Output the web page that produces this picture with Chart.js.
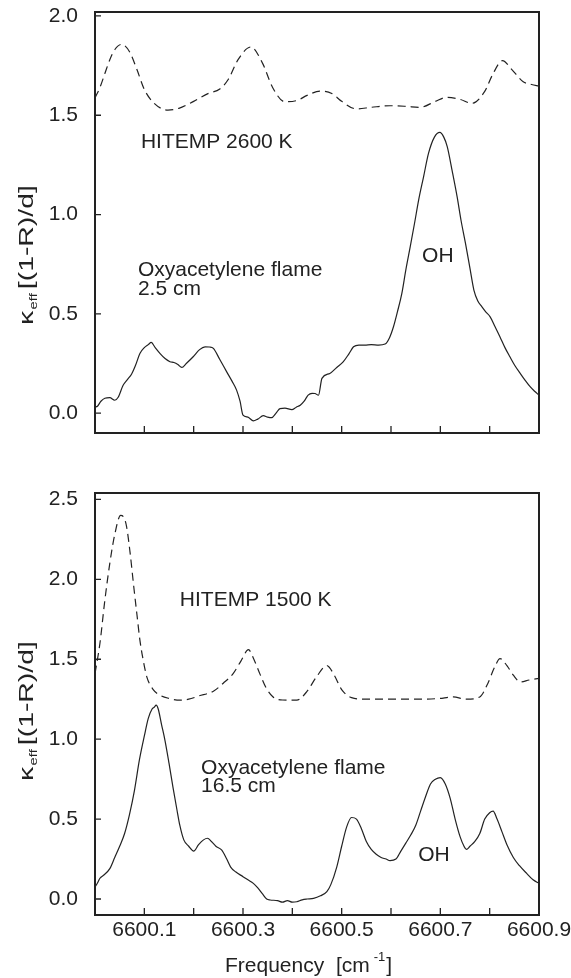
<!DOCTYPE html>
<html lang="en">
<head>
<meta charset="UTF-8" />
<title>Oxyacetylene flame vs HITEMP</title>
<style>
  html, body { margin: 0; padding: 0; background: #fff; }
  body { width: 571px; height: 978px; position: relative; overflow: hidden; }
  canvas { position: absolute; left: 0; }
  #topChart { top: 0; }
  #bottomChart { top: 470px; }
</style>
<script src="https://cdn.jsdelivr.net/npm/chart.js"></script>
</head>
<body>
<canvas id="topChart" width="571" height="470"></canvas>
<canvas id="bottomChart" width="571" height="508"></canvas>
<script>
// DATA - top panel (2.5 cm, HITEMP 2600 K)
const hitemp2600Freq = [6600.000, 6600.010, 6600.020, 6600.030, 6600.040, 6600.054, 6600.070, 6600.085, 6600.100, 6600.120,
  6600.148, 6600.170, 6600.200, 6600.230, 6600.253, 6600.270, 6600.290, 6600.316, 6600.340, 6600.360,
  6600.385, 6600.410, 6600.430, 6600.456, 6600.480, 6600.500, 6600.530, 6600.560, 6600.598, 6600.630,
  6600.659, 6600.690, 6600.713, 6600.740, 6600.764, 6600.790, 6600.805, 6600.826, 6600.845, 6600.868,
  6600.885, 6600.900];
const hitemp2600Val = [1.587, 1.64, 1.71, 1.78, 1.83, 1.857, 1.82, 1.73, 1.63, 1.56,
  1.526, 1.535, 1.57, 1.61, 1.632, 1.68, 1.78, 1.844, 1.76, 1.64,
  1.568, 1.575, 1.60, 1.622, 1.61, 1.57, 1.532, 1.54, 1.548, 1.545,
  1.540, 1.57, 1.590, 1.58, 1.560, 1.62, 1.70, 1.775, 1.73, 1.669,
  1.655, 1.647];

const flame25Freq = [6600.000, 6600.005, 6600.012, 6600.020, 6600.030, 6600.040, 6600.047, 6600.057, 6600.066, 6600.074,
  6600.082, 6600.091, 6600.100, 6600.108, 6600.114, 6600.122, 6600.132, 6600.142, 6600.152, 6600.160,
  6600.168, 6600.176, 6600.185, 6600.199, 6600.212, 6600.223, 6600.232, 6600.240, 6600.253, 6600.267,
  6600.278, 6600.287, 6600.294, 6600.300, 6600.310, 6600.321, 6600.330, 6600.341, 6600.350, 6600.358,
  6600.367, 6600.375, 6600.385, 6600.399, 6600.408, 6600.416, 6600.424, 6600.432, 6600.440, 6600.446,
  6600.453, 6600.460, 6600.476, 6600.490, 6600.503, 6600.515, 6600.524, 6600.535, 6600.547, 6600.560,
  6600.575, 6600.588, 6600.597, 6600.605, 6600.613, 6600.622, 6600.630, 6600.639, 6600.648, 6600.656,
  6600.666, 6600.676, 6600.688, 6600.699, 6600.707, 6600.714, 6600.724, 6600.734, 6600.742, 6600.751,
  6600.760, 6600.768, 6600.776, 6600.784, 6600.792, 6600.801, 6600.811, 6600.821, 6600.831, 6600.841,
  6600.851, 6600.862, 6600.872, 6600.882, 6600.891, 6600.900];
const flame25Val = [0.03, 0.035, 0.06, 0.075, 0.078, 0.065, 0.08, 0.14, 0.17, 0.196,
  0.24, 0.30, 0.33, 0.345, 0.356, 0.33, 0.30, 0.275, 0.259, 0.255,
  0.245, 0.230, 0.25, 0.284, 0.32, 0.334, 0.333, 0.326, 0.27, 0.208,
  0.16, 0.116, 0.06, -0.01, -0.02, -0.039, -0.03, -0.013, -0.02, -0.023,
  0.0, 0.023, 0.025, 0.018, 0.03, 0.04, 0.06, 0.091, 0.10, 0.099,
  0.09, 0.175, 0.20, 0.23, 0.258, 0.30, 0.334, 0.343, 0.343, 0.345,
  0.343, 0.348, 0.38, 0.435, 0.51, 0.603, 0.72, 0.838, 0.96, 1.073,
  1.19, 1.308, 1.39, 1.414, 1.39, 1.342, 1.22, 1.09, 0.97, 0.855,
  0.73, 0.62, 0.565, 0.536, 0.51, 0.485, 0.435, 0.384, 0.33, 0.284,
  0.24, 0.20, 0.165, 0.133, 0.11, 0.091];

// DATA - bottom panel (16.5 cm, HITEMP 1500 K)
const hitemp1500Freq = [6600.000, 6600.010, 6600.020, 6600.030, 6600.040, 6600.052, 6600.058, 6600.064, 6600.071, 6600.078,
  6600.085, 6600.091, 6600.098, 6600.105, 6600.118, 6600.132, 6600.150, 6600.172, 6600.190, 6600.210,
  6600.240, 6600.260, 6600.280, 6600.296, 6600.311, 6600.322, 6600.334, 6600.347, 6600.361, 6600.380,
  6600.409, 6600.430, 6600.449, 6600.470, 6600.485, 6600.500, 6600.520, 6600.550, 6600.600, 6600.650,
  6600.696, 6600.726, 6600.753, 6600.780, 6600.795, 6600.810, 6600.821, 6600.835, 6600.848, 6600.862,
  6600.880, 6600.900];
const hitemp1500Val = [1.41, 1.60, 1.87, 2.10, 2.28, 2.40, 2.39, 2.33, 2.17, 1.97,
  1.78, 1.62, 1.49, 1.39, 1.31, 1.275, 1.255, 1.244, 1.25, 1.27,
  1.30, 1.35, 1.41, 1.49, 1.56, 1.50, 1.41, 1.32, 1.264, 1.245,
  1.244, 1.30, 1.39, 1.46, 1.40, 1.31, 1.26, 1.25, 1.25, 1.25,
  1.254, 1.264, 1.25, 1.264, 1.34, 1.45, 1.504, 1.46, 1.40, 1.358,
  1.37, 1.38];

const flame165Freq = [6600.000, 6600.005, 6600.010, 6600.018, 6600.030, 6600.040, 6600.050, 6600.060, 6600.070, 6600.080,
  6600.090, 6600.100, 6600.108, 6600.116, 6600.120, 6600.124, 6600.128, 6600.135, 6600.142, 6600.150,
  6600.158, 6600.166, 6600.172, 6600.180, 6600.190, 6600.200, 6600.210, 6600.220, 6600.228, 6600.236,
  6600.245, 6600.257, 6600.267, 6600.275, 6600.285, 6600.300, 6600.310, 6600.321, 6600.330, 6600.340,
  6600.348, 6600.355, 6600.370, 6600.380, 6600.390, 6600.400, 6600.409, 6600.420, 6600.430, 6600.443,
  6600.457, 6600.470, 6600.478, 6600.490, 6600.500, 6600.510, 6600.520, 6600.530, 6600.540, 6600.550,
  6600.560, 6600.570, 6600.580, 6600.590, 6600.598, 6600.610, 6600.620, 6600.630, 6600.640, 6600.650,
  6600.660, 6600.670, 6600.680, 6600.690, 6600.700, 6600.710, 6600.720, 6600.730, 6600.740, 6600.748,
  6600.753, 6600.760, 6600.770, 6600.780, 6600.790, 6600.800, 6600.807, 6600.815, 6600.825, 6600.835,
  6600.848, 6600.860, 6600.875, 6600.888, 6600.900];
const flame165Val = [0.075, 0.10, 0.13, 0.15, 0.19, 0.26, 0.33, 0.41, 0.53, 0.68,
  0.87, 1.02, 1.13, 1.19, 1.20, 1.213, 1.19, 1.09, 0.99, 0.85,
  0.70, 0.56, 0.46, 0.37, 0.33, 0.30, 0.34, 0.37, 0.38, 0.36,
  0.33, 0.306, 0.25, 0.20, 0.17, 0.14, 0.12, 0.098, 0.07, 0.03,
  0.0, -0.006, -0.01, -0.02, -0.01, -0.02, -0.017, -0.005, 0.0, 0.004,
  0.02, 0.046, 0.09, 0.20, 0.33, 0.45, 0.51, 0.50, 0.44, 0.36,
  0.31, 0.28, 0.26, 0.25, 0.24, 0.25, 0.30, 0.35, 0.40, 0.46,
  0.55, 0.64, 0.72, 0.75, 0.76, 0.72, 0.63, 0.50, 0.39, 0.33,
  0.31, 0.33, 0.36, 0.41, 0.50, 0.54, 0.55, 0.50, 0.42, 0.34,
  0.26, 0.21, 0.16, 0.12, 0.098];

// AXES
const xTicks = [6600.1, 6600.2, 6600.3, 6600.4, 6600.5, 6600.6, 6600.7, 6600.8, 6600.9];
const xLabelled = ['6600.1', '6600.3', '6600.5', '6600.7', '6600.9'];
const topYTicks = [0.0, 0.5, 1.0, 1.5, 2.0];
const bottomYTicks = [0.0, 0.5, 1.0, 1.5, 2.0, 2.5];

// ANNOTATIONS (data coordinates)
const topNotes = [
  { text: 'HITEMP 2600 K', f: 6600.093, v: 1.365 },
  { text: 'Oxyacetylene flame', f: 6600.087, v: 0.72 },
  { text: '2.5 cm', f: 6600.087, v: 0.625 },
  { text: 'OH', f: 6600.663, v: 0.79 }
];
const bottomNotes = [
  { text: 'HITEMP 1500 K', f: 6600.172, v: 1.87 },
  { text: 'Oxyacetylene flame', f: 6600.215, v: 0.82 },
  { text: '16.5 cm', f: 6600.215, v: 0.706 },
  { text: 'OH', f: 6600.655, v: 0.275 }
];

const INK = '#222';
const FONT = '"Liberation Sans", Arial, Helvetica, sans-serif';
Chart.defaults.font.family = FONT;
Chart.defaults.font.size = 21;
Chart.defaults.color = INK;

const toPoints = (fs, vs) => fs.map((f, i) => ({ x: f, y: vs[i] }));

// frame, inward ticks, notes and titles
const framePlugin = {
  id: 'frame',
  afterDraw(chart, args, opts) {
    const { ctx, chartArea: a, scales: { x, y } } = chart;
    ctx.save();
    ctx.strokeStyle = INK;
    ctx.lineWidth = 1.3;
    ctx.beginPath();
    xTicks.forEach(v => {
      const px = x.getPixelForValue(v);
      ctx.moveTo(px, a.bottom); ctx.lineTo(px, a.bottom - 7);
    });
    y.ticks.forEach(t => {
      const py = y.getPixelForValue(t.value);
      ctx.moveTo(a.left, py); ctx.lineTo(a.left + 6, py);
    });
    ctx.stroke();
    ctx.lineWidth = 2;
    ctx.strokeRect(a.left, a.top, a.right - a.left, a.bottom - a.top);

    ctx.fillStyle = INK;
    ctx.font = '21px ' + FONT;
    ctx.textBaseline = 'middle';
    ctx.textAlign = 'left';
    opts.notes.forEach(n => ctx.fillText(n.text, x.getPixelForValue(n.f), y.getPixelForValue(n.v)));

    // y title: kappa_eff [(1-R)/d], stretched along its length like the original
    ctx.save();
    ctx.translate(32.5, a.top + opts.yTitleStart);
    ctx.rotate(-Math.PI / 2);
    ctx.scale(1.35, 1);
    ctx.textBaseline = 'alphabetic';
    ctx.font = '21px ' + FONT;
    ctx.fillText('\u03BA', 0, 0);
    let w = ctx.measureText('\u03BA').width + 1;
    ctx.font = '11px ' + FONT;
    ctx.fillText('eff', w, 4);
    w += ctx.measureText('eff').width + 3;
    ctx.font = '21px ' + FONT;
    ctx.fillText('[(1-R)/d]', w, 0);
    ctx.restore();

    if (opts.xTitle) {
      const base = a.bottom + 57;
      ctx.textBaseline = 'alphabetic';
      ctx.font = '21px ' + FONT;
      let px = 225;
      ctx.fillText('Frequency  [cm', px, base);
      px += ctx.measureText('Frequency  [cm').width + 4;
      ctx.font = '13px ' + FONT;
      ctx.fillText('-1', px, base - 11);
      px += ctx.measureText('-1').width + 1;
      ctx.font = '21px ' + FONT;
      ctx.fillText(']', px, base);
    }
    ctx.restore();
  }
};

function makeChart(id, solid, dashed, yMax, yTicks, padTop, xHeight, showXLabels, notes, yTitleStart, xTitle) {
  return new Chart(document.getElementById(id), {
    type: 'line',
    data: {
      datasets: [
        { data: dashed, borderColor: INK, borderWidth: 1.2, borderDash: [8, 5], pointRadius: 0, fill: false, cubicInterpolationMode: 'monotone' },
        { data: solid, borderColor: INK, borderWidth: 1.2, pointRadius: 0, fill: false, cubicInterpolationMode: 'monotone' }
      ]
    },
    options: {
      responsive: false,
      animation: false,
      events: [],
      layout: { padding: { top: padTop, right: 32, left: 0, bottom: 0 } },
      plugins: {
        legend: { display: false },
        tooltip: { enabled: false },
        frame: { notes, yTitleStart, xTitle }
      },
      scales: {
        x: {
          type: 'linear', min: 6600.0, max: 6600.9,
          grid: { display: false, drawTicks: false },
          border: { display: false },
          afterBuildTicks: s => { s.ticks = xTicks.map(v => ({ value: v })); },
          afterFit: s => { s.height = xHeight; s.paddingLeft = 0; s.paddingRight = 0; },
          ticks: {
            display: showXLabels, padding: 3, maxRotation: 0, autoSkip: false,
            callback: v => { const l = v.toFixed(1); return xLabelled.includes(l) ? l : ''; }
          }
        },
        y: {
          min: -0.1, max: yMax,
          grid: { display: false, drawTicks: false },
          border: { display: false },
          afterBuildTicks: s => { s.ticks = yTicks.map(v => ({ value: v })); },
          afterFit: s => { s.width = 95; s.paddingTop = 0; s.paddingBottom = 0; },
          ticks: { padding: 17, callback: v => v.toFixed(1) }
        }
      }
    },
    plugins: [framePlugin]
  });
}

makeChart('topChart', toPoints(flame25Freq, flame25Val), toPoints(hitemp2600Freq, hitemp2600Val),
  2.02, topYTicks, 12, 37, false, topNotes, 313, false);
makeChart('bottomChart', toPoints(flame165Freq, flame165Val), toPoints(hitemp1500Freq, hitemp1500Val),
  2.54, bottomYTicks, 23, 63, true, bottomNotes, 288, true);
</script>
</body>
</html>
